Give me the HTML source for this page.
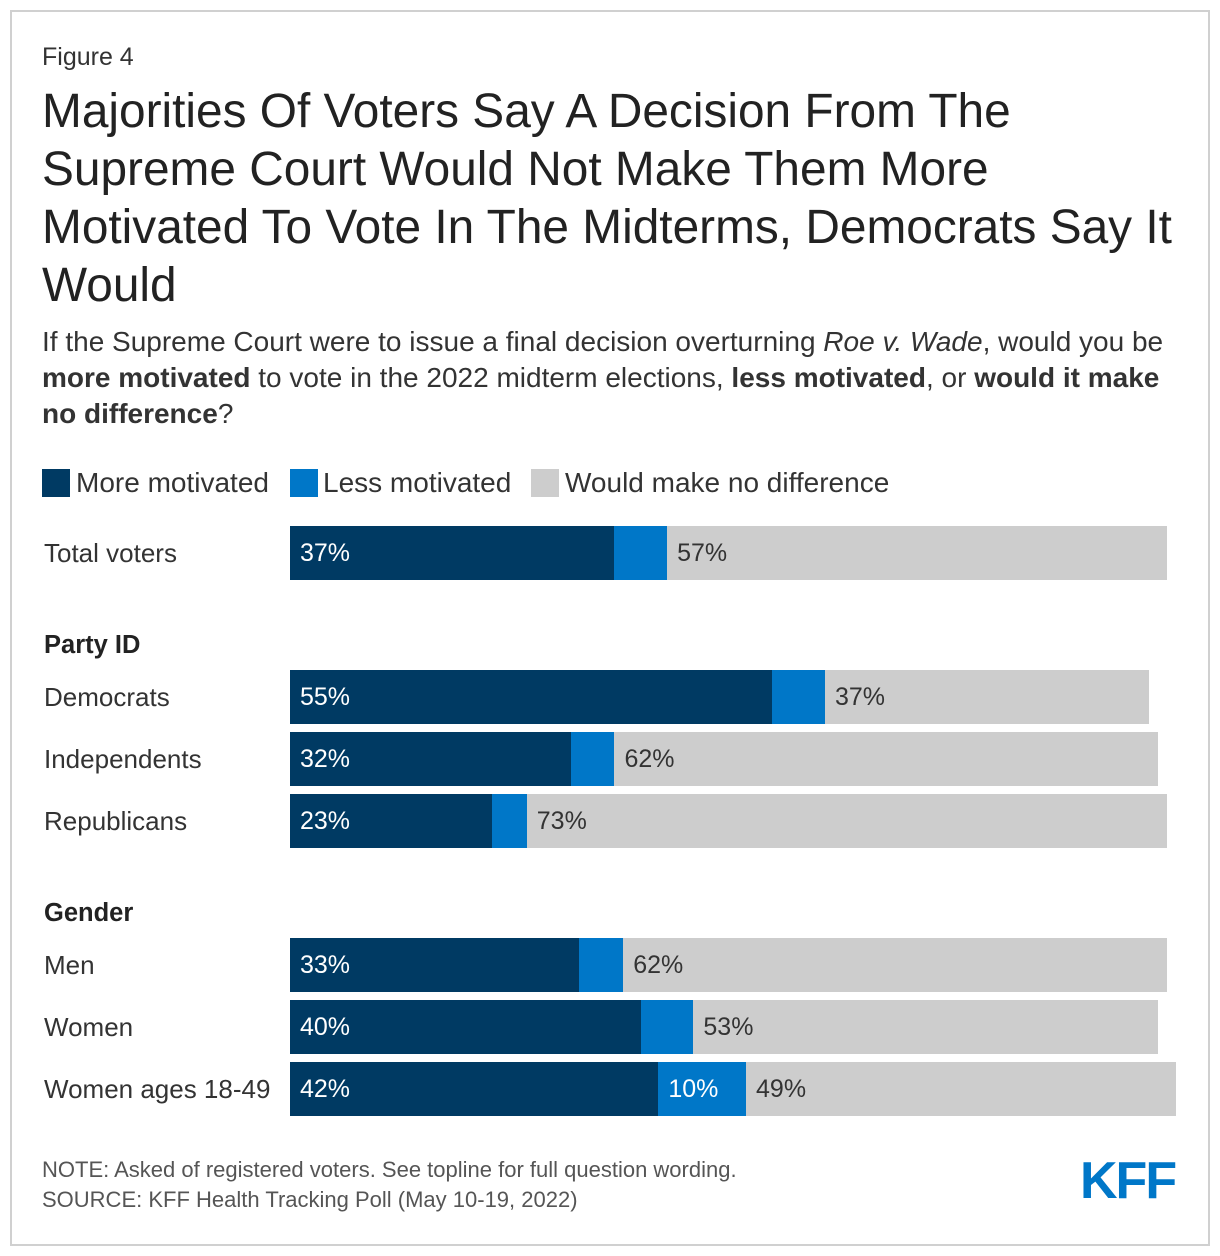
<!DOCTYPE html>
<html><head><meta charset="utf-8">
<style>
body{margin:0;background:#fff;font-family:"Liberation Sans",Arial,sans-serif;color:#333;}
#frame{position:absolute;left:10px;top:10px;width:1196px;height:1232px;border:2px solid #d0d0d0;}
.t{position:absolute;white-space:nowrap;}
</style></head><body>
<div id="frame"></div>
<div class="t" style="left:42px;top:43px;font-size:25px;color:#333">Figure 4</div>
<div class="t" style="left:42px;top:83px;font-size:47.8px;line-height:58px;color:#222">Majorities Of Voters Say A Decision From The<br>Supreme Court Would Not Make Them More<br>Motivated To Vote In The Midterms, Democrats Say It<br>Would</div>
<div class="t" style="left:42px;top:324px;font-size:28px;line-height:36px;color:#333">If the Supreme Court were to issue a final decision overturning <i>Roe v. Wade</i>, would you be<br><b>more motivated</b> to vote in the 2022 midterm elections, <b>less motivated</b>, or <b>would it make</b><br><b>no difference</b>?</div>
<div>
<div class="t" style="left:42px;top:469px;width:28px;height:28px;background:#003a63"></div>
<div class="t" style="left:76px;top:467px;font-size:28px">More motivated</div>
<div class="t" style="left:290px;top:469px;width:28px;height:28px;background:#0077c8"></div>
<div class="t" style="left:323px;top:467px;font-size:28px">Less motivated</div>
<div class="t" style="left:531px;top:469px;width:28px;height:28px;background:#cdcdcd"></div>
<div class="t" style="left:565px;top:467px;font-size:28px">Would make no difference</div>
</div>
<div class="t" style="left:44px;top:631px;font-size:25.5px;font-weight:bold;color:#222">Party ID</div>
<div class="t" style="left:44px;top:899px;font-size:25.5px;font-weight:bold;color:#222">Gender</div>
<div id="chart"></div>
<div class="t" style="left:42px;top:1157px;font-size:22px;color:#555">NOTE: Asked of registered voters. See topline for full question wording.</div>
<div class="t" style="left:42px;top:1187px;font-size:22px;color:#555">SOURCE: KFF Health Tracking Poll (May 10-19, 2022)</div>
<div class="t" style="left:1080px;top:1151px;font-size:52px;font-weight:900;color:#0077c8;letter-spacing:-2px">KFF</div>
<script>
const categories=["Total voters","Democrats","Independents","Republicans","Men","Women","Women ages 18-49"];
const moreMotivated=[37,55,32,23,33,40,42];
const lessMotivated=[6,6,5,4,5,6,10];
const noDifference=[57,37,62,73,62,53,49];
const rowTops=[526,670,732,794,938,1000,1062];
const x0=290, pxPer=8.77, barH=54;
const xs=v=>v*pxPer;
const chart=document.getElementById('chart');
const colors=['#003a63','#0077c8','#cdcdcd'];
const txt=['#fff','#fff','#333'];
const names=['more','less','none'];
categories.forEach((c,i)=>{
  const y=rowTops[i];
  const lab=document.createElement('div');
  lab.className='t';
  
  
  lab.style.cssText=`left:44px;top:${y+12}px;font-size:26px;color:#333`;
  lab.textContent=c;chart.appendChild(lab);
  let x=x0;
  [moreMotivated[i],lessMotivated[i],noDifference[i]].forEach((v,k)=>{
    const w=xs(v);
    const b=document.createElement('div');
    b.className='t';
    
    
    b.style.cssText=`left:${x}px;top:${y}px;width:${w}px;height:${barH}px;background:${colors[k]}`;
    chart.appendChild(b);
    if(v>=10){
      const l=document.createElement('div');
      l.className='t';
      
      
      l.style.cssText=`left:${x+10}px;top:${y+13}px;font-size:25px;color:${txt[k]}`;
      l.textContent=v+'%';chart.appendChild(l);
    }
    x+=w;
  });
});
</script>
</body></html>
